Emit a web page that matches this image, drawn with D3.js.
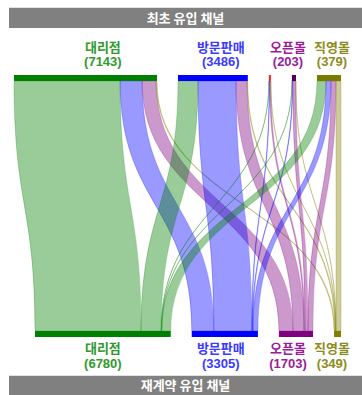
<!DOCTYPE html>
<html><head><meta charset="utf-8">
<script src="https://cdn.jsdelivr.net/npm/d3@7/dist/d3.min.js"></script>
<style>
html,body{margin:0;padding:0;background:#fff;}
svg{display:block;font-family:"Noto Sans CJK KR","Noto Sans",sans-serif;}
</style></head>
<body>
<svg id="chart" width="362" height="395"></svg>
<script>
// ---- data ----
const topTitle = "최초 유입 채널";
const bottomTitle = "재계약 유입 채널";
const sources = ["대리점", "방문판매", "기타", "오픈몰", "직영몰"];
const sourceCounts = [7143, 3486, null, 203, 379];
const targets = ["대리점", "방문판매", "오픈몰", "직영몰"];
const targetCounts = [6780, 3305, 1703, 349];
// flows[source][target]
const flowsFromDealer = [5300, 1100, 700, 43];
const flowsFromVisit = [1000, 1900, 550, 36];
const flowsFromOther = [15, 25, 55, 10];
const flowsFromOpen = [15, 30, 148, 10];
const flowsFromDirect = [450, 250, 250, 250];
const flows = [flowsFromDealer, flowsFromVisit, flowsFromOther, flowsFromOpen, flowsFromDirect];

// ---- styles ----
const targetColors = ["#008000", "#0000ff", "#800080", "#808000"];
const sourceBarColors = ["#008000", "#0000ff", "#ff2020", "#500050", "#7a7a00"];
const labelColors = ["#2f9a2f", "#3a3aff", "#9a209a", "#8c8c1c"];

const svg = d3.select("#chart");
const W = 362;
const rightEdge = 341, gap = 21;
const yTopBar = 75, yBotBar = 331, barH = 6;

const srcTotals = flows.map(r => d3.sum(r));
const tgtTotals = targets.map((t, j) => d3.sum(flows, r => r[j]));
const grand = d3.sum(srcTotals);
const usable = 243;
const k = d3.scaleLinear().domain([0, grand]).range([0, usable]);

function layout(totals) {
  const span = k(d3.sum(totals)) + gap * (totals.length - 1);
  let x = rightEdge - span;
  return totals.map(v => { const n = {x0: x, x1: x + k(v)}; x = n.x1 + gap; return n; });
}
const srcNodes = layout(srcTotals);
const tgtNodes = layout(tgtTotals);

const links = [];
const srcOff = srcNodes.map(n => n.x0);
const tgtOff = tgtNodes.map(n => n.x0);
for (let i = 0; i < sources.length; i++) {
  for (let j = 0; j < targets.length; j++) {
    const v = flows[i][j];
    links.push({i, j, v, s0: srcOff[i], s1: srcOff[i] + k(v)});
    srcOff[i] += k(v);
  }
}
for (let j = 0; j < targets.length; j++) {
  for (let i = 0; i < sources.length; i++) {
    const l = links.find(d => d.i === i && d.j === j);
    l.t0 = tgtOff[j]; l.t1 = tgtOff[j] + k(l.v); tgtOff[j] = l.t1;
  }
}
const y0 = yTopBar + barH, y1 = yBotBar, ym = (y0 + y1) / 2;
function ribbon(d) {
  const p = d3.path();
  p.moveTo(d.s0, y0);
  p.bezierCurveTo(d.s0, ym, d.t0, ym, d.t0, y1);
  p.lineTo(d.t1, y1);
  p.bezierCurveTo(d.t1, ym, d.s1, ym, d.s1, y0);
  p.closePath();
  return p.toString();
}
svg.append("g").selectAll("path").data(links).join("path")
  .attr("d", ribbon)
  .attr("fill", d => targetColors[d.j]).attr("fill-opacity", 0.4)
  .attr("stroke", d => targetColors[d.j]).attr("stroke-opacity", 0.35).attr("stroke-width", 0.7);

svg.append("g").selectAll("rect").data(srcNodes).join("rect")
  .attr("x", d => d.x0).attr("y", yTopBar).attr("width", d => Math.max(1.5, d.x1 - d.x0)).attr("height", barH)
  .attr("fill", (d, i) => sourceBarColors[i]);
svg.append("g").selectAll("rect").data(tgtNodes).join("rect")
  .attr("x", d => d.x0).attr("y", yBotBar).attr("width", d => d.x1 - d.x0).attr("height", barH)
  .attr("fill", (d, i) => targetColors[i]);

function header(y, h, text) {
  svg.append("line").attr("x1", 9).attr("x2", W).attr("y1", y - 0.5).attr("y2", y - 0.5).attr("stroke", "#e2e2e2");
  svg.append("rect").attr("x", 9).attr("y", y).attr("width", W - 9).attr("height", h).attr("fill", "#808080");
  svg.append("text").attr("x", (9 + W) / 2).attr("y", y + h / 2 + 1).attr("text-anchor", "middle")
    .attr("dominant-baseline", "middle").attr("fill", "#fff").attr("font-weight", "bold").attr("font-size", 13).text(text);
}
header(8, 20, topTitle);
header(376, 19, bottomTitle);

const lblW = [40, 50, 38, 38];
const cx = tgtNodes.map(n => (n.x0 + n.x1) / 2);
cx[cx.length - 1] = Math.min(cx[cx.length - 1], 351 - lblW[cx.length - 1] / 2);
for (let j = cx.length - 2; j >= 0; j--) cx[j] = Math.min(cx[j], cx[j + 1] - lblW[j + 1] / 2 - 6 - lblW[j] / 2);
cx[1] -= 4;

function label(x, yName, name, count, color) {
  const g = svg.append("g").attr("fill", color).attr("font-weight", "bold").attr("text-anchor", "middle")
    .attr("font-size", 13).attr("font-family", "'Liberation Sans', 'Noto Sans CJK KR', sans-serif");
  g.append("text").attr("x", x).attr("y", yName).text(name);
  g.append("text").attr("x", x).attr("y", yName + 14.7).text("(" + count + ")");
}
const topLabelIdx = sources.map((s, i) => i).filter(i => sourceCounts[i] !== null);
topLabelIdx.forEach((i, j) => label(cx[j], 51.5, sources[i], sourceCounts[i], labelColors[j]));
targets.forEach((t, j) => label(cx[j], 353, t, targetCounts[j], labelColors[j]));
</script>
</body></html>
